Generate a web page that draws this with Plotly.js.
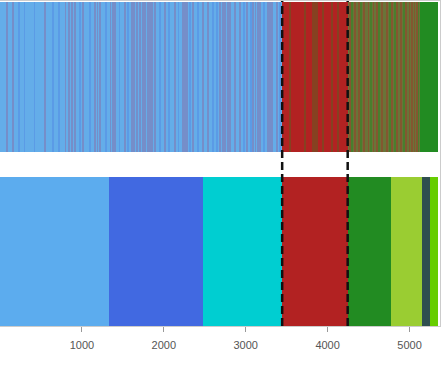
<!DOCTYPE html>
<html>
<head>
<meta charset="utf-8">
<script src="https://cdn.plot.ly/plotly-3.0.1.min.js"></script>
<style>html,body{margin:0;padding:0;background:#fff;}#chart{width:443px;height:366px;}</style>
</head>
<body>
<div id="chart"></div>
<script>
// Bottom band: solid cluster segments
const segStart = [0, 1335, 2480, 3445, 4245, 4770, 5155, 5250];
const segEnd   = [1335, 2480, 3445, 4245, 4770, 5155, 5250, 5345];
const segColors = ['#5CACEE', '#4169E1', '#00CED1', '#B22222', '#228B22', '#9ACD32', '#2F4F4F', '#66CD00'];

// Top band: base regions
const topStart = [0, 3445, 4245, 5125];
const topEnd   = [3445, 4245, 5125, 5345];
const topColors = ['#64ADE9', '#B22222', '#6A7438', '#228B22'];

// Top band: thin stripes
const redStripesInBlue = [85, 160, 550, 800, 840, 880, 915, 1015, 1160, 1190, 1220, 1350, 1380, 1405, 1525,
  1610, 1640, 1670, 1710, 1745, 1775, 1805, 1830, 1860, 1890, 2015, 2135, 2235, 2260, 2285, 2355, 2480,
  2540, 2690, 2720, 2750, 2780, 2810, 2870, 2930, 3015, 3090, 3120, 3150, 3175, 3270, 3295, 3320, 3380];
const blueStripesInBlue = [230, 300, 420, 650, 720, 980, 1100, 1290, 1460, 1560, 1950, 2060, 2180, 2320,
  2420, 2600, 2650, 2980, 3060, 3220, 3420];
const greenStripesInRed = [3540, 3725, 3820, 3845, 3870, 3945, 4055, 4125];
const redStripesInMixed = [4275, 4330, 4380, 4440, 4500, 4560, 4600, 4660, 4720, 4790, 4850, 4900, 4960, 5000, 5030, 5060, 5090];
const greenStripesInMixed = [4300, 4410, 4530, 4630, 4760, 4820, 4930, 5110];

// Dashed cut lines
const cutPoints = [3445, 4245];
const tickValues = [1000, 2000, 3000, 4000, 5000];

const BOTTOM_Y = 0.5, TOP_Y = 1.67, BAND_W = 1, STRIPE_W = 22;

function segTrace(starts, ends, colors, y) {
  return {
    type: 'bar', orientation: 'h',
    y: starts.map(() => y), base: starts, x: starts.map((s, i) => ends[i] - s),
    width: starts.map(() => BAND_W),
    marker: {color: colors, line: {width: 0}},
    hoverinfo: 'skip', showlegend: false
  };
}
function stripeTrace(pos, color) {
  return {
    type: 'bar', orientation: 'h',
    y: pos.map(() => TOP_Y), base: pos.map(p => p - STRIPE_W / 2), x: pos.map(() => STRIPE_W),
    width: pos.map(() => BAND_W),
    marker: {color: color, line: {width: 0}},
    hoverinfo: 'skip', showlegend: false
  };
}

const data = [
  segTrace(segStart, segEnd, segColors, BOTTOM_Y),
  segTrace(topStart, topEnd, topColors, TOP_Y),
  stripeTrace(blueStripesInBlue, 'rgba(65,105,225,0.25)'),
  stripeTrace(redStripesInBlue, 'rgba(160,60,120,0.28)'),
  stripeTrace(greenStripesInRed, 'rgba(34,139,34,0.3)'),
  stripeTrace(redStripesInMixed, 'rgba(178,34,34,0.35)'),
  stripeTrace(greenStripesInMixed, 'rgba(34,139,34,0.45)')
];

const shapes = cutPoints.map(c => ({
  type: 'line', xref: 'x', yref: 'paper', x0: c, x1: c, y0: 0, y1: 1,
  line: {color: '#111', width: 2.5, dash: '8px,4px'}
}));

const layout = {
  width: 443, height: 366,
  margin: {l: 0, r: 3, t: 1, b: 40},
  paper_bgcolor: '#fff', plot_bgcolor: '#fff',
  barmode: 'overlay', bargap: 0,
  showlegend: false,
  xaxis: {
    range: [0, 5372], tickvals: tickValues, ticktext: tickValues.map(String),
    ticks: 'outside', ticklen: 5, tickcolor: '#999', tickwidth: 1, ticklabelstandoff: 4,
    showgrid: false, zeroline: false, showline: true, mirror: true, linecolor: '#ccc', linewidth: 1,
    tickfont: {family: 'Liberation Sans, Arial, sans-serif', size: 11, color: '#555'}
  },
  yaxis: {
    range: [0, 2.18], showticklabels: false, ticks: '', showgrid: false, zeroline: false,
    showline: true, mirror: true, linecolor: '#ccc', linewidth: 1
  },
  shapes: shapes
};

Plotly.newPlot('chart', data, layout, {staticPlot: true, displayModeBar: false});
</script>
</body>
</html>
